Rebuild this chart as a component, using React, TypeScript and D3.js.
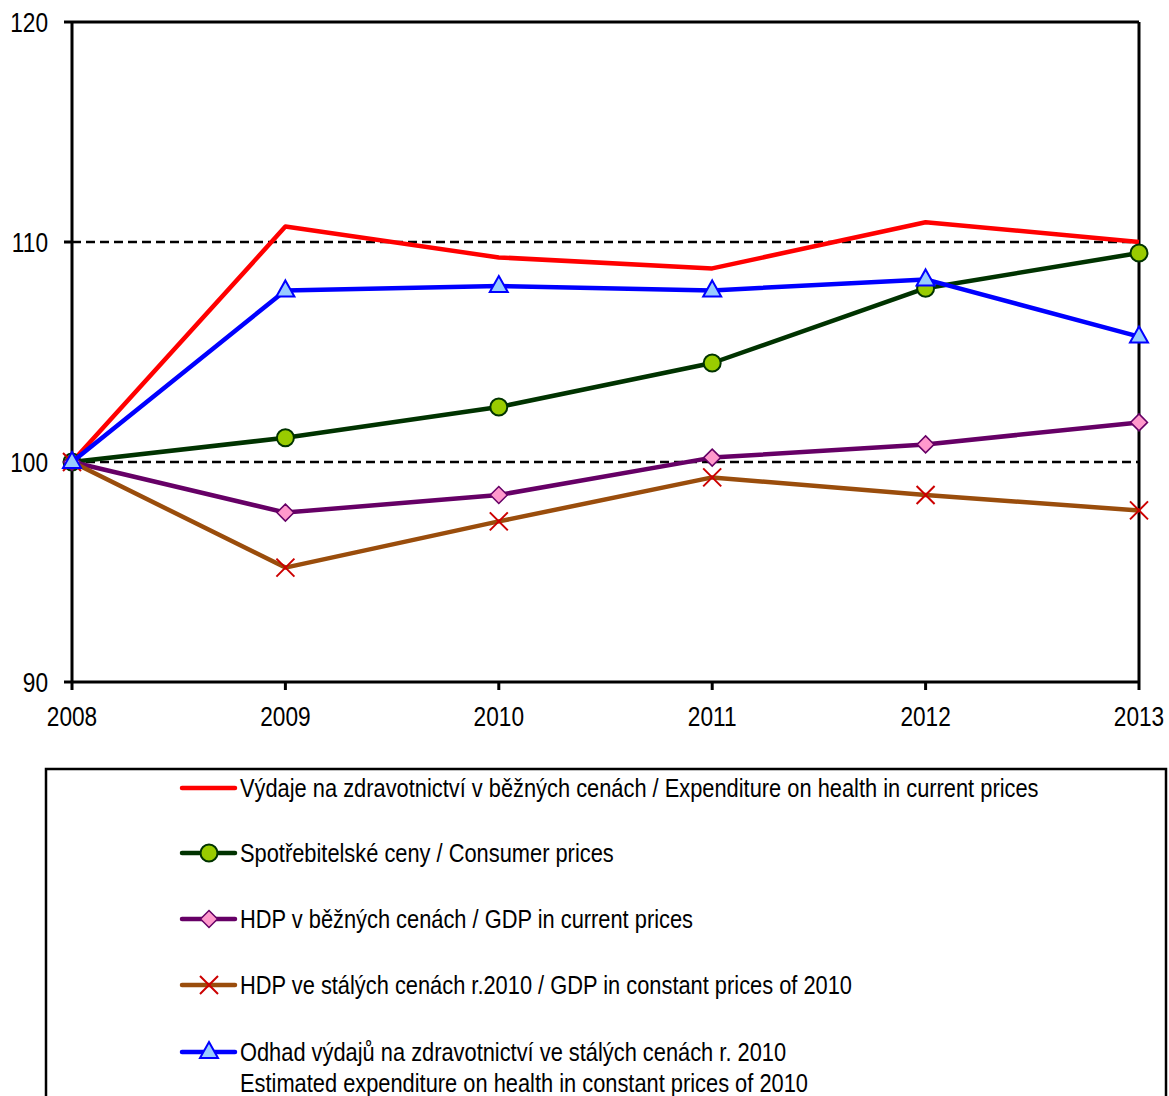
import React from "react";
import * as d3 from "d3";

const years = [2008, 2009, 2010, 2011, 2012, 2013];
const yTicks = [90, 100, 110, 120];
const dashedLevels = [100, 110];

const healthCurrent = [100, 110.7, 109.3, 108.8, 110.9, 110.0];
const consumerPrices = [100, 101.1, 102.5, 104.5, 107.9, 109.5];
const gdpCurrent = [100, 97.7, 98.5, 100.2, 100.8, 101.8];
const gdpConstant = [100, 95.2, 97.3, 99.3, 98.5, 97.8];
const healthConstant = [100, 107.8, 108.0, 107.8, 108.3, 105.7];

const seriesNames = [
  ["Výdaje na zdravotnictví v běžných cenách / Expenditure on health in current prices"],
  ["Spotřebitelské ceny / Consumer prices"],
  ["HDP v běžných cenách / GDP in current prices"],
  ["HDP ve stálých cenách r.2010 / GDP in constant prices of 2010"],
  ["Odhad výdajů na zdravotnictví ve stálých cenách r. 2010", "Estimated expenditure on health in constant prices of 2010"],
];

type Marker = "none" | "circle" | "diamond" | "x" | "triangle";
const series: { values: number[]; color: string; marker: Marker; fill: string; mstroke: string }[] = [
  { values: healthCurrent, color: "#ff0000", marker: "none", fill: "none", mstroke: "none" },
  { values: consumerPrices, color: "#003300", marker: "circle", fill: "#99cc00", mstroke: "#003300" },
  { values: gdpCurrent, color: "#660066", marker: "diamond", fill: "#ff99cc", mstroke: "#660066" },
  { values: gdpConstant, color: "#9a4d0c", marker: "x", fill: "none", mstroke: "#cc0000" },
  { values: healthConstant, color: "#0000ff", marker: "triangle", fill: "#99ccff", mstroke: "#0000ff" },
];

const FONT = "'Liberation Sans', Arial, sans-serif";

function NText({ x, y, anchor, size, sx, children }: { x: number; y: number; anchor?: string; size: number; sx: number; children: React.ReactNode }) {
  return (
    <text
      transform={`translate(${x},${y}) scale(${sx},1)`}
      textAnchor={anchor || "start"}
      fontSize={size}
      fill="#000"
    >
      {children}
    </text>
  );
}

function MarkerShape({ type, x, y, fill, stroke }: { type: Marker; x: number; y: number; fill: string; stroke: string }) {
  if (type === "circle") return <circle cx={x} cy={y} r={8.5} fill={fill} stroke={stroke} strokeWidth={2} />;
  if (type === "diamond")
    return (
      <path
        d={`M${x},${y - 8.5}L${x + 8.5},${y}L${x},${y + 8.5}L${x - 8.5},${y}Z`}
        fill={fill}
        stroke={stroke}
        strokeWidth={1.5}
      />
    );
  if (type === "triangle")
    return (
      <path
        d={`M${x},${y - 10}L${x + 9},${y + 6}L${x - 9},${y + 6}Z`}
        fill={fill}
        stroke={stroke}
        strokeWidth={2}
      />
    );
  if (type === "x")
    return (
      <path
        d={`M${x - 9},${y - 9}L${x + 9},${y + 9}M${x - 9},${y + 9}L${x + 9},${y - 9}`}
        stroke={stroke}
        strokeWidth={2}
        fill="none"
      />
    );
  return null;
}

export default function App() {
  const W = 1169;
  const H = 1096;
  const left = 72, right = 1139, top = 22, bottom = 682;
  const x = d3.scalePoint<number>().domain(years).range([left, right]);
  const y = d3.scaleLinear().domain([90, 120]).range([bottom, top]);
  const line = d3
    .line<number>()
    .x((_, i) => x(years[i])!)
    .y((d) => y(d));

  const legendX = 182;
  const legendYs = [788, 853, 919, 985, 1052];

  return (
    <div style={{ position: "absolute", left: 0, top: 0 }}>
      <svg width={W} height={H} style={{ display: "block", fontFamily: FONT }}>
        <rect x={0} y={0} width={W} height={H} fill="#fff" />
        {dashedLevels.map((v) => (
          <line key={v} x1={left} x2={right} y1={y(v)} y2={y(v)} stroke="#000" strokeWidth={2.5} strokeDasharray="9,5" />
        ))}
        {/* frame */}
        <line x1={left} x2={right} y1={y(120)} y2={y(120)} stroke="#000" strokeWidth={3} />
        <line x1={right} x2={right} y1={top} y2={bottom} stroke="#000" strokeWidth={3} />
        <line x1={left} x2={left} y1={top} y2={bottom} stroke="#000" strokeWidth={3} />
        <line x1={left} x2={right} y1={bottom} y2={bottom} stroke="#000" strokeWidth={3} />
        {yTicks.map((t) => (
          <g key={t}>
            <line x1={left - 8} x2={left} y1={y(t)} y2={y(t)} stroke="#000" strokeWidth={3} />
            <NText x={48} y={y(t) + 10} anchor="end" size={27} sx={0.84}>
              {t}
            </NText>
          </g>
        ))}
        {years.map((yr) => (
          <g key={yr}>
            <line x1={x(yr)} x2={x(yr)} y1={bottom} y2={bottom + 8} stroke="#000" strokeWidth={3} />
            <NText x={x(yr)!} y={726} anchor="middle" size={27} sx={0.84}>
              {yr}
            </NText>
          </g>
        ))}
        {series.map((s, si) => (
          <g key={si}>
            <path d={line(s.values)!} fill="none" stroke={s.color} strokeWidth={4.5} strokeLinejoin="round" />
            {s.values.map((v, i) => (
              <MarkerShape key={i} type={s.marker} x={x(years[i])!} y={y(v)} fill={s.fill} stroke={s.mstroke} />
            ))}
          </g>
        ))}
        {/* legend */}
        <rect x={46} y={769} width={1120} height={340} fill="none" stroke="#000" strokeWidth={2.5} />
        {series.map((s, si) => (
          <g key={si}>
            <line x1={legendX} x2={legendX + 53} y1={legendYs[si]} y2={legendYs[si]} stroke={s.color} strokeWidth={4.5} strokeLinecap="round" />
            <MarkerShape type={s.marker} x={legendX + 27} y={legendYs[si]} fill={s.fill} stroke={s.mstroke} />
            {seriesNames[si].map((ln, li) => (
              <NText key={li} x={240} y={legendYs[si] + 9 + li * 31} size={26} sx={0.84}>
                {ln}
              </NText>
            ))}
          </g>
        ))}
      </svg>
    </div>
  );
}
